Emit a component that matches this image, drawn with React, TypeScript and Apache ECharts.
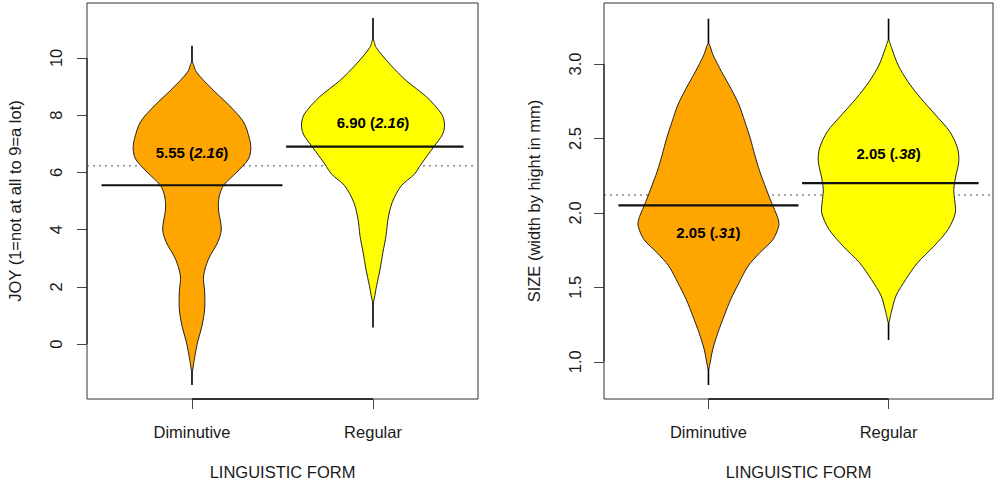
import React, { useEffect, useRef } from "react";
import * as echarts from "echarts";

// ---------- data ----------
const categories = ["Diminutive", "Regular"];

// JOY panel
const joyMeanLine = [5.55, 6.9];
const joyMeanText = ["5.55", "6.90"];
const joySdText = ["2.16", "2.16"];
const joyGrandMean = 6.23;
const joyMin = [-1.43, 0.58];
const joyMax = [10.43, 11.4];
const joyTicks = [0, 2, 4, 6, 8, 10];
const joyDimY = [9.86, 9.51, 8.92, 8.32, 7.76, 7.17, 6.82, 6.47, 6.01, 5.56, 5.17, 4.72, 4.02, 3.57, 2.97, 2.38, 1.82, 1.22, 0.63, 0.07, -0.52, -0.98];
const joyDimW = [0, 0.024, 0.11, 0.209, 0.285, 0.318, 0.325, 0.312, 0.248, 0.176, 0.151, 0.146, 0.162, 0.143, 0.091, 0.064, 0.07, 0.07, 0.055, 0.031, 0.013, 0];
const joyRegY = [10.66, 10.37, 9.79, 9.21, 8.63, 8.04, 7.69, 7.34, 6.88, 6.29, 5.94, 5.53, 4.95, 4.37, 3.79, 3.21, 2.62, 2.04, 1.47];
const joyRegW = [0, 0.017, 0.092, 0.183, 0.297, 0.379, 0.395, 0.385, 0.334, 0.266, 0.229, 0.156, 0.106, 0.083, 0.072, 0.055, 0.039, 0.02, 0];

// SIZE panel
const sizeMeanLine = [2.05, 2.2];
const sizeMeanText = ["2.05", "2.05"];
const sizeSdText = [".31", ".38"];
const sizeGrandMean = 2.12;
const sizeMin = [0.844, 1.147];
const sizeMax = [3.305, 3.305];
const sizeTicks = [1, 1.5, 2, 2.5, 3];
const sizeDimY = [3.138, 3.06, 2.948, 2.837, 2.725, 2.613, 2.502, 2.39, 2.278, 2.167, 2.1, 2.044, 1.955, 1.91, 1.821, 1.732, 1.643, 1.531, 1.42, 1.308, 1.197, 1.085, 0.973, 0.951];
const sizeDimW = [0, 0.026, 0.073, 0.124, 0.17, 0.202, 0.232, 0.257, 0.285, 0.319, 0.34, 0.359, 0.388, 0.39, 0.358, 0.285, 0.22, 0.17, 0.124, 0.087, 0.053, 0.024, 0.006, 0];
const sizeRegY = [3.16, 3.104, 2.993, 2.881, 2.77, 2.658, 2.546, 2.435, 2.345, 2.234, 2.156, 2.089, 2.0, 1.888, 1.776, 1.665, 1.554, 1.442, 1.331, 1.264];
const sizeRegW = [0, 0.018, 0.053, 0.108, 0.179, 0.261, 0.34, 0.383, 0.39, 0.371, 0.362, 0.367, 0.371, 0.33, 0.252, 0.161, 0.096, 0.041, 0.015, 0];

// label anchors (value units)
const joyLabelY = [6.71, 7.75];
const sizeLabelY = [1.866, 2.4];

// ---------- styles ----------
const FONT = '"Liberation Sans", Arial, Helvetica, sans-serif';
const FILLS = ["#FFA500", "#FFFF00"];
const X_MIN = 0.42;
const X_MAX = 2.58;

type Panel = {
  meanLine: number[];
  meanText: string[];
  sdText: string[];
  grand: number;
  min: number[];
  max: number[];
  ys: number[][];
  ws: number[][];
  labelY: number[];
  ticks: number[];
  yMin: number;
};

const panels: Panel[] = [
  {
    meanLine: joyMeanLine, meanText: joyMeanText, sdText: joySdText, grand: joyGrandMean,
    min: joyMin, max: joyMax, ys: [joyDimY, joyRegY], ws: [joyDimW, joyRegW], labelY: joyLabelY,
    ticks: joyTicks, yMin: -1.92,
  },
  {
    meanLine: sizeMeanLine, meanText: sizeMeanText, sdText: sizeSdText, grand: sizeGrandMean,
    min: sizeMin, max: sizeMax, ys: [sizeDimY, sizeRegY], ws: [sizeDimW, sizeRegW], labelY: sizeLabelY,
    ticks: sizeTicks, yMin: 0.75,
  },
];

function buildSeries(p: Panel, idx: number) {
  const common = { type: "custom", coordinateSystem: "cartesian2d", xAxisIndex: idx, yAxisIndex: idx, clip: false, silent: true };
  const beanData = categories.map((_, i) => [i + 1, p.meanLine[i]]);
  return [
    {
      ...common,
      z: 1,
      data: [[1, p.grand]],
      renderItem: (_params: any, api: any) => {
        const a = api.coord([X_MIN, p.grand]);
        const b = api.coord([X_MAX, p.grand]);
        // R-style axis lines overlapping the frame
        const xa = api.coord([1, p.yMin]);
        const xb = api.coord([2, p.yMin]);
        const ya = api.coord([X_MIN, p.ticks[0]]);
        const yb = api.coord([X_MIN, p.ticks[p.ticks.length - 1]]);
        return {
          type: "group",
          children: [
            {
              type: "line",
              shape: { x1: a[0], y1: a[1], x2: b[0], y2: b[1] },
              style: { stroke: "#8a8a8a", lineWidth: 1.5, lineDash: [2, 4] },
            },
            {
              type: "line",
              shape: { x1: xa[0], y1: xa[1], x2: xb[0], y2: xb[1] },
              style: { stroke: "#111", lineWidth: 1.6 },
            },
            {
              type: "line",
              shape: { x1: ya[0], y1: ya[1], x2: yb[0], y2: yb[1] },
              style: { stroke: "#222", lineWidth: 1.2 },
            },
          ],
        };
      },
    },
    {
      ...common,
      z: 2,
      data: beanData,
      renderItem: (params: any, api: any) => {
        const i = params.dataIndex;
        const cx = i + 1;
        const ys = p.ys[i];
        const ws = p.ws[i];
        const pts: number[][] = [];
        for (let k = 0; k < ys.length; k++) pts.push(api.coord([cx + ws[k], ys[k]]));
        for (let k = ys.length - 1; k >= 0; k--) {
          if (ws[k] === 0) continue; // tips already included once
          pts.push(api.coord([cx - ws[k], ys[k]]));
        }
        const top = api.coord([cx, p.max[i]]);
        const bot = api.coord([cx, p.min[i]]);
        return {
          type: "group",
          children: [
            {
              type: "line",
              shape: { x1: top[0], y1: top[1], x2: bot[0], y2: bot[1] },
              style: { stroke: "#000", lineWidth: 1.6 },
            },
            {
              type: "polygon",
              shape: { points: pts, smooth: 0.3 },
              style: { fill: FILLS[i], stroke: "#222", lineWidth: 1 },
            },
          ],
        };
      },
    },
    {
      ...common,
      z: 3,
      data: beanData,
      renderItem: (params: any, api: any) => {
        const i = params.dataIndex;
        const cx = i + 1;
        const a = api.coord([cx - (i === 0 ? 0.5 : 0.48), p.meanLine[i]]);
        const b = api.coord([cx + 0.5, p.meanLine[i]]);
        return {
          type: "line",
          shape: { x1: a[0], y1: a[1], x2: b[0], y2: b[1] },
          style: { stroke: "#111", lineWidth: 2.2 },
        };
      },
    },
    {
      ...common,
      z: 4,
      data: beanData,
      renderItem: (params: any, api: any) => {
        const i = params.dataIndex;
        const c = api.coord([i + 1, p.labelY[i]]);
        return {
          type: "text",
          x: c[0],
          y: c[1],
          style: {
            text: `{b|${p.meanText[i]} (}{i|${p.sdText[i]}}{b|)}`,
            align: "center",
            verticalAlign: "middle",
            rich: {
              b: { fontFamily: FONT, fontSize: 15, fontWeight: "bold", fill: "#000" },
              i: { fontFamily: FONT, fontSize: 15, fontWeight: "bold", fontStyle: "italic", fill: "#000" },
            },
          },
        };
      },
    },
  ];
}

const axisText = { fontFamily: FONT, fontSize: 16.5, color: "#1a1a1a" };

function xAxis(idx: number) {
  return {
    type: "value",
    gridIndex: idx,
    min: X_MIN,
    max: X_MAX,
    axisLine: { show: false, onZero: false },
    splitLine: { show: false },
    axisTick: { show: true, length: 10, customValues: [1, 2], lineStyle: { color: "#444" } },
    axisLabel: {
      ...axisText,
      margin: 24,
      customValues: [1, 2],
      formatter: (v: number) => categories[Math.round(v) - 1] ?? "",
    },
    name: "LINGUISTIC FORM",
    nameLocation: "middle",
    nameGap: 64,
    nameTextStyle: { ...axisText },
  };
}

const App: React.FC = () => {
  const ref = useRef<HTMLDivElement>(null);
  useEffect(() => {
    if (!ref.current) return;
    const chart = echarts.init(ref.current, null, { renderer: "svg" });
    const option: any = {
      animation: false,
      backgroundColor: "#ffffff",
      grid: [
        { left: 87, top: 3, width: 391, height: 396.5, show: true, borderColor: "#333", borderWidth: 1, backgroundColor: "transparent" },
        { left: 604, top: 3, width: 389, height: 396.5, show: true, borderColor: "#333", borderWidth: 1, backgroundColor: "transparent" },
      ],
      xAxis: [xAxis(0), xAxis(1)],
      yAxis: [
        {
          type: "value",
          gridIndex: 0,
          min: -1.92,
          max: 11.92,
          axisLine: { show: false, onZero: false },
          splitLine: { show: false },
          axisTick: { show: true, length: 10, customValues: joyTicks, lineStyle: { color: "#444" } },
          axisLabel: { ...axisText, rotate: 90, margin: 23, customValues: joyTicks, formatter: (v: number) => String(v) },
          name: "JOY (1=not at all to 9=a lot)",
          nameLocation: "middle",
          nameRotate: 90,
          nameGap: 64,
          nameTextStyle: { ...axisText },
        },
        {
          type: "value",
          gridIndex: 1,
          min: 0.75,
          max: 3.41,
          axisLine: { show: false, onZero: false },
          splitLine: { show: false },
          axisTick: { show: true, length: 10, customValues: sizeTicks, lineStyle: { color: "#444" } },
          axisLabel: { ...axisText, rotate: 90, margin: 21, customValues: sizeTicks, formatter: (v: number) => v.toFixed(1) },
          name: "SIZE (width by hight in mm)",
          nameLocation: "middle",
          nameRotate: 90,
          nameGap: 62,
          nameTextStyle: { ...axisText },
        },
      ],
      series: [...buildSeries(panels[0], 0), ...buildSeries(panels[1], 1)],
    };
    chart.setOption(option);
    return () => chart.dispose();
  }, []);
  return (
    <div
      ref={ref}
      style={{ position: "fixed", left: 0, top: 0, width: 1000, height: 485, background: "#fff" }}
    />
  );
};

export default App;
